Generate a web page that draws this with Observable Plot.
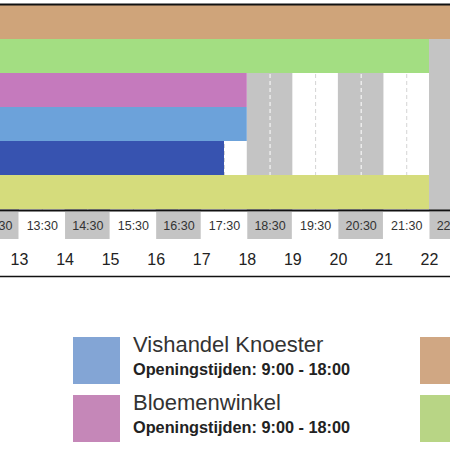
<!DOCTYPE html>
<html>
<head>
<meta charset="utf-8">
<script src="https://cdn.jsdelivr.net/npm/d3@7"></script>
<script src="https://cdn.jsdelivr.net/npm/@observablehq/plot@0.6"></script>
<style>
  html, body { margin: 0; padding: 0; background: #fff; width: 450px; height: 450px; overflow: hidden; }
  body { font-family: "Liberation Sans", Arial, sans-serif; position: relative; }
  #chart svg { display: block; }
  #legend { position: absolute; left: 73px; top: 337px; display: grid;
            grid-template-columns: 347px 347px; row-gap: 11px; }
  .item { display: flex; align-items: flex-start; height: 47px; }
  .sw { width: 47px; height: 47px; flex: none; }
  .txt { margin-left: 13px; margin-top: -3px; color: #333; white-space: nowrap; }
  .name { font-size: 22px; line-height: 22px; }
  .hrs { font-size: 16.3px; line-height: 16px; font-weight: bold; margin-top: 5px; color: #222; }
</style>
</head>
<body>
<div id="chart"></div>
<div id="legend"></div>
<script>
// ---- data ----
const shops   = ["Winkel 1", "Winkel 2", "Bloemenwinkel", "Vishandel Knoester", "Winkel 5", "Winkel 6"];
const opens   = [8, 8, 9, 9, 9, 8];
const closes  = [23, 22, 18, 18, 17.5, 22];
const barColors    = ["#cfa47a", "#a3de82", "#c57abd", "#6ca2da", "#3753b0", "#d5dc7c"];
const legendColors = ["#d0a783", "#b8d585", "#c587b8", "#83a5d5", "#3753b0", "#d5dc7c"];
const knownNames = ["Vishandel Knoester", "Bloemenwinkel"];
const legendOrder = ["Vishandel Knoester", "Winkel 1", "Bloemenwinkel", "Winkel 2"];

const hourStarts  = [12, 13, 14, 15, 16, 17, 18, 19, 20, 21, 22];
const halfLabels  = ["12:30", "13:30", "14:30", "15:30", "16:30", "17:30", "18:30", "19:30", "20:30", "21:30", "22:30"];
const hourTicks   = [13, 14, 15, 16, 17, 18, 19, 20, 21, 22];

const table = shops.map((s, i) => ({shop: s, open: opens[i], close: closes[i], color: barColors[i]}));
const bands = hourStarts.map((h, i) => ({start: h, end: h + 1, mid: h + 0.5, half: halfLabels[i], shaded: h % 2 === 0}));

const xDomain = [12.583, 22.461];
const font = "Liberation Sans, Arial, sans-serif";

const barsChart = Plot.plot({
  width: 450, height: 212,
  marginTop: 4, marginBottom: 2, marginLeft: 0, marginRight: 0,
  style: {fontFamily: font, background: "#fff"},
  x: {domain: xDomain, axis: null},
  y: {domain: shops, axis: null, padding: 0},
  marks: [
    Plot.rect(bands.filter(d => d.shaded), {x1: "start", x2: "end", fill: "#c4c4c4", clip: true}),
    Plot.ruleX(bands, {x: "mid", stroke: d => d.shaded ? "#ffffff" : "#d4d4d4", strokeWidth: 1, strokeDasharray: "4,3"}),
    Plot.barX(table, {y: "shop", x1: "open", x2: "close", fill: "color", clip: true}),
    Plot.frame({anchor: "top", stroke: "#111", strokeWidth: 2}),
    Plot.frame({anchor: "bottom", stroke: "#111", strokeWidth: 2})
  ]
});

const axisChart = Plot.plot({
  width: 450, height: 68,
  marginTop: 0, marginBottom: 4, marginLeft: 0, marginRight: 0,
  style: {fontFamily: font, background: "#fff"},
  x: {domain: xDomain, axis: null},
  y: {domain: ["half", "hour"], axis: null, padding: 0},
  marks: [
    Plot.barX(bands, {x1: "start", x2: "end", y: () => "half", fill: d => d.shaded ? "#c4c4c4" : "#ffffff", insetBottom: 5, insetLeft: 0.5, insetRight: 0.5}),
    Plot.text(bands, {x: "mid", y: () => "half", text: "half", dy: -2.5, fontSize: 12.5, fill: "#333"}),
    Plot.text(hourTicks, {x: d => d, y: () => "hour", text: d => String(d), dy: -1, fontSize: 16, fill: "#222"}),
    Plot.frame({anchor: "bottom", stroke: "#111", strokeWidth: 1.5})
  ]
});

const chart = document.getElementById("chart");
chart.appendChild(barsChart);
chart.appendChild(axisChart);

const fmt = h => `${Math.floor(h)}:${String(Math.round((h % 1) * 60)).padStart(2, "0")}`;
const legend = document.getElementById("legend");
legendOrder.forEach(name => {
  const i = shops.indexOf(name);
  const item = document.createElement("div");
  item.className = "item";
  const sw = document.createElement("div");
  sw.className = "sw";
  sw.style.background = legendColors[i];
  item.appendChild(sw);
  if (knownNames.includes(name)) {
    const t = document.createElement("div");
    t.className = "txt";
    t.innerHTML = `<div class="name">${name}</div><div class="hrs">Openingstijden: ${fmt(opens[i])} - ${fmt(closes[i])}</div>`;
    item.appendChild(t);
  }
  legend.appendChild(item);
});
</script>
</body>
</html>
